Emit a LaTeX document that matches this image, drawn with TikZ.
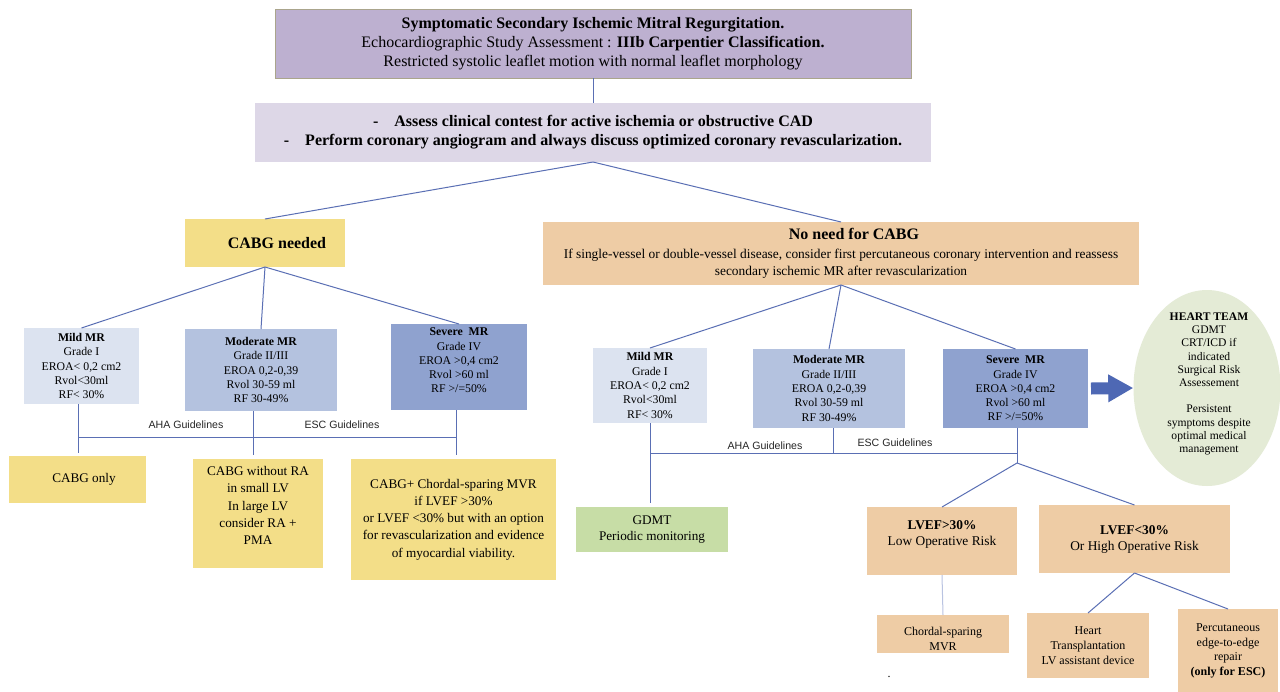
\documentclass[tikz,border=0pt]{standalone}
\usepackage{fontspec}
\setmainfont{Liberation Serif}
\setsansfont{Liberation Sans}
\usetikzlibrary{shapes.geometric,arrows.meta}

\definecolor{titlefill}{RGB}{189,176,208}
\definecolor{titleborder}{RGB}{170,165,140}
\definecolor{assessfill}{RGB}{221,215,231}
\definecolor{yellowfill}{RGB}{243,222,136}
\definecolor{peachfill}{RGB}{238,204,165}
\definecolor{mildfill}{RGB}{220,227,240}
\definecolor{modfill}{RGB}{180,194,223}
\definecolor{sevfill}{RGB}{143,162,207}
\definecolor{greenfill}{RGB}{199,221,166}
\definecolor{teamfill}{RGB}{228,235,214}
\definecolor{linkblue}{RGB}{90,111,180}
\definecolor{lightlink}{RGB}{185,195,225}
\definecolor{arrowblue}{RGB}{78,104,180}

\newcommand{\fs}[2]{\fontsize{#1}{#2}\selectfont}

\begin{document}
\begin{tikzpicture}[x=1pt,y=-1pt,
  panel/.style={inner sep=0pt, outer sep=0pt, align=center, text=black},
  txt/.style={inner sep=0pt, align=center, text=black},
  mr/.style={panel, font=\fs{11.8}{14.3}},
  conn/.style={draw=linkblue, line width=1pt},
  guide/.style={font=\sffamily\fs{10.6}{12}, inner sep=0pt, text=black!85}]

\useasboundingbox (0,0) rectangle (1280,691);
\fill[white] (0,0) rectangle (1280,691);

% --- top of the tree
\node[panel, fill=titlefill, draw=titleborder, line width=0.8pt,
      minimum width=636, minimum height=69, font=\fs{16}{19}] (title) at (593,43.5)
  {\textbf{Symptomatic Secondary Ischemic Mitral Regurgitation.}\\
   Echocardiographic Study Assessment : \textbf{IIIb Carpentier Classification.}\\
   Restricted systolic leaflet motion with normal leaflet morphology};

\node[panel, fill=assessfill, minimum width=676, minimum height=59,
      font=\fs{16}{19}\bfseries] (assess) at (593,132.5)
  {-\hspace{1em}Assess clinical contest for active ischemia or obstructive CAD\\
   -\hspace{1em}Perform coronary angiogram and always discuss optimized coronary revascularization.};

\node[panel, fill=yellowfill, minimum width=160, minimum height=48,
      font=\fs{16}{19}\bfseries] (cabg) at (265,243) {\hspace*{24pt}CABG needed};

\node[panel, fill=peachfill, minimum width=596, minimum height=63,
      font=\fs{13.4}{17}] (noneed) at (841,253.5)
  {{\fs{16}{19}\bfseries\hspace*{26pt}No need for CABG}\\[2pt]
   If single-vessel or double-vessel disease, consider first percutaneous coronary intervention and reassess\\
   secondary ischemic MR after revascularization};

% --- CABG branch
\node[mr, fill=mildfill, minimum width=115, minimum height=76] (mildL) at (81.5,366)
  {\textbf{Mild MR}\\Grade I\\EROA< 0,2 cm2\\Rvol<30ml\\RF< 30\%};
\node[mr, fill=modfill, minimum width=152, minimum height=82] (modL) at (261,370)
  {\textbf{Moderate MR}\\Grade II/III\\EROA 0,2-0,39\\Rvol 30-59 ml\\RF 30-49\%};
\node[panel, fill=sevfill, minimum width=136, minimum height=86] (sevL) at (459,367) {};
\node[txt, font=\fs{11.8}{14.3}] (sevLt) at ([yshift=6.5pt]sevL.center)
  {\textbf{Severe~ MR}\\Grade IV\\EROA >0,4 cm2\\Rvol >60 ml\\RF >/=50\%};

\node[panel, fill=yellowfill, minimum width=137, minimum height=47,
      font=\fs{13.2}{17.3}] (cabgonly) at (77.5,479.5) {\hspace*{13pt}CABG only};
\node[panel, fill=yellowfill, minimum width=130, minimum height=109] (cabgRA) at (258,513.5) {};
\node[txt, font=\fs{13.2}{17.3}] (cabgRAt) at ([yshift=8pt]cabgRA.center)
  {CABG without RA\\in small LV\\In large LV\\consider RA +\\PMA};
\node[panel, fill=yellowfill, minimum width=205, minimum height=121,
      font=\fs{13.2}{17.3}] (cabgMVR) at (453.5,519.5)
  {CABG+ Chordal-sparing MVR\\if LVEF >30\%\\or LVEF <30\% but with an option\\
   for revascularization and evidence\\of myocardial viability.};

% --- no-CABG branch
\node[mr, fill=mildfill, minimum width=114, minimum height=75] (mildR) at (650,385.5)
  {\textbf{Mild MR}\\Grade I\\EROA< 0,2 cm2\\Rvol<30ml\\RF< 30\%};
\node[mr, fill=modfill, minimum width=152, minimum height=79] (modR) at (829,388.5)
  {\textbf{Moderate MR}\\Grade II/III\\EROA 0,2-0,39\\Rvol 30-59 ml\\RF 30-49\%};
\node[mr, fill=sevfill, minimum width=145, minimum height=79] (sevR) at (1015.5,388.5)
  {\textbf{Severe~ MR}\\Grade IV\\EROA >0,4 cm2\\Rvol >60 ml\\RF >/=50\%};

\node[panel, fill=greenfill, minimum width=152, minimum height=45,
      font=\fs{13.2}{16}] (gdmt) at (652,529.5) {GDMT\\Periodic monitoring};

\node[panel, fill=peachfill, minimum width=150, minimum height=68] (lvefA) at (942,541) {};
\node[txt, font=\fs{13.4}{16}] (lvefAt) at ([yshift=7pt]lvefA.center)
  {\textbf{LVEF>30\%}\\Low Operative Risk};
\node[panel, fill=peachfill, minimum width=191, minimum height=68,
      font=\fs{13.4}{16}] (lvefB) at (1134.5,539) {\textbf{LVEF<30\%}\\Or High Operative Risk};

\node[panel, fill=peachfill, minimum width=132, minimum height=38] (chordal) at (943,634) {};
\node[txt, font=\fs{12}{15}] (chordalt) at ([yshift=-5pt]chordal.center) {Chordal-sparing\\MVR};
\node[panel, fill=peachfill, minimum width=122, minimum height=65,
      font=\fs{12}{15}] (heart) at (1088,645.5) {Heart\\Transplantation\\LV assistant device};
\node[panel, fill=peachfill, minimum width=100, minimum height=84,
      font=\fs{12}{14.7}] (perc) at (1228,651)
  {Percutaneous\\edge-to-edge\\repair\\\textbf{(only for ESC)}};
\node[txt, font=\fs{12}{14}] (dot) at (889,677) {.};

% --- heart team
\node[ellipse, fill=teamfill, inner sep=0pt, minimum width=147, minimum height=196] (team) at (1207,388) {};
\node[txt, font=\fs{11.6}{13.2}] (teamt) at (1209,384)
  {\textbf{HEART TEAM}\\GDMT\\CRT/ICD if\\indicated\\Surgical Risk\\Assessement\\[13.2pt]
   Persistent\\symptoms despite\\optimal medical\\management};
\draw[arrowblue, line width=12pt, -{Triangle[length=25pt,width=26pt]}]
  ([xshift=3pt]sevR.east) -- (team.west);

% --- connectors
\draw[conn] (title.south) -- (assess.north);
\draw[conn] (assess.south) -- (cabg.north);
\draw[conn] (assess.south) -- (noneed.north);
\draw[conn] (cabg.south) -- (mildL.north);
\draw[conn] (cabg.south) -- (modL.north);
\draw[conn] (cabg.south) -- (sevL.north);
\draw[conn] (noneed.south) -- (mildR.north);
\draw[conn] (noneed.south) -- (modR.north);
\draw[conn] (noneed.south) -- (sevR.north);

% guideline buses
\coordinate (jl1) at (78,437);
\coordinate (jl2) at (253,437);
\coordinate (jl3) at (456,437);
\draw[conn, shorten >=3pt] (mildL.south -| jl1) -- (jl1 |- cabgonly.north);
\draw[conn, shorten >=4pt] (modL.south -| jl2) -- (jl2 |- cabgRA.north);
\draw[conn, shorten >=4pt] (sevL.south -| jl3) -- (jl3 |- cabgMVR.north);
\draw[conn] (jl1) -- (jl3);
\node[guide] (ahaL) at (186,425) {AHA Guidelines};
\node[guide] (escL) at (342,425) {ESC Guidelines};

\coordinate (jr1) at (650,453);
\coordinate (jr2) at (833,453);
\coordinate (jr3) at (1017,453);
\coordinate (jr4) at (1017,463);
\draw[conn, shorten >=4pt] (mildR.south -| jr1) -- (jr1 |- gdmt.north);
\draw[conn] (modR.south -| jr2) -- (jr2);
\draw[conn] (sevR.south -| jr3) -- (jr4);
\draw[conn] (jr1) -- (jr3);
\node[guide] (ahaR) at (765,446) {AHA Guidelines};
\node[guide] (escR) at (895,443) {ESC Guidelines};

\draw[conn] (jr4) -- (lvefA.north);
\draw[conn] (jr4) -- (lvefB.north);
\draw[conn, draw=lightlink] (lvefA.south) -- (chordal.north);
\draw[conn] (lvefB.south) -- (heart.north);
\draw[conn] (lvefB.south) -- (perc.north);

\end{tikzpicture}
\end{document}
